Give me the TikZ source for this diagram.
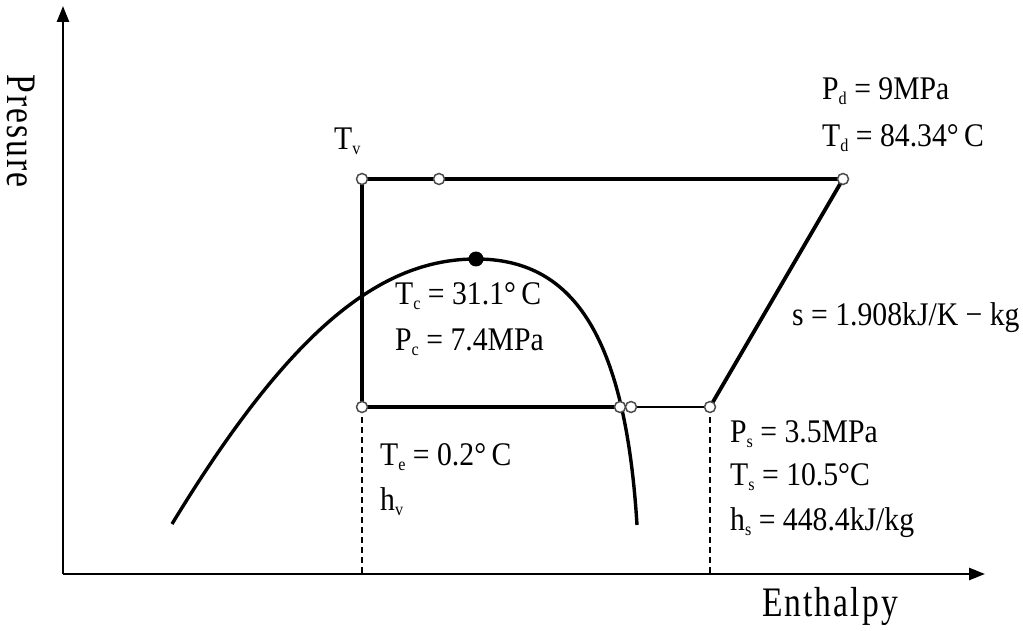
\documentclass[tikz,border=0pt]{standalone}
\usepackage{fontspec}
\setmainfont{Liberation Serif}
\newfontfamily\lblfont[FakeStretch=0.9]{Liberation Serif}
\newfontfamily\axfont[FakeStretch=0.8,LetterSpace=5]{Liberation Serif}
\usetikzlibrary{arrows.meta}
\newcommand{\lowsub}[1]{\raisebox{-5pt}{\fontsize{18}{18}\selectfont #1}}
\tikzset{
  lbl/.style={anchor=base west,inner sep=0pt,font=\lblfont\fontsize{33}{36}\selectfont},
  axlbl/.style={inner sep=0pt,font=\axfont\fontsize{42}{44}\selectfont},
  axisline/.style={line width=2.6pt,-{Triangle[length=16pt,width=12pt]}},
  cycle/.style={line width=3.8pt},
  thinline/.style={line width=2pt},
  guide/.style={line width=1.2pt,dash pattern=on 6pt off 4pt},
  opendot/.style={circle,draw=black!70,fill=white,line width=1.5pt,minimum size=11pt,inner sep=0pt},
  fulldot/.style={circle,fill=black,minimum size=15pt,inner sep=0pt}
}
\begin{document}
\begin{tikzpicture}[x=1pt,y=-1pt]
\useasboundingbox (0,0) rectangle (1023,631);
% axes
\coordinate (O) at (63,574);
\coordinate (ytip) at (63,6);
\coordinate (xtip) at (985,574);
\draw[axisline] (O) -- (ytip);
\draw[axisline] (O) -- (xtip);
\node[axlbl,rotate=-90] (ylab) at (21,131) {Presure};
\node[axlbl] (xlab) at (830,606) {Enthalpy};
% cycle points
\coordinate (A) at (362,179);
\coordinate (B) at (439,179);
\coordinate (C) at (843,179);
\coordinate (D) at (362,407);
\coordinate (E) at (620,407);
\coordinate (F) at (631,407);
\coordinate (G) at (710,407);
\coordinate (Db) at (362,574);
\coordinate (Gb) at (710,574);
% saturation dome
\coordinate (L) at (172,524);
\coordinate (K) at (476,259);
\coordinate (R) at (637,525);
\draw[line width=3.4pt] (L) .. controls (290,330) and (380,259) .. (K)
  .. controls (570,259) and (625,330) .. (R);
% guides
\draw[guide] (D) -- (Db);
\draw[guide] (G) -- (Gb);
% cycle
\draw[cycle,line join=miter] (D) -- (A) -- (C) -- (G);
\draw[cycle] (D) -- (E);
\draw[thinline] (F) -- (G);
% dots
\foreach \p in {A,B,C,D,E,F,G} \node[opendot] (n\p) at (\p) {};
\node[fulldot] (crit) at (K) {};
% labels
\node[lbl] (tv) at (334,150) {T\lowsub{v}};
\node[lbl] (pd) at (822,100) {P\lowsub{d} = 9MPa};
\node[lbl] (td) at (822,147) {T\lowsub{d} = 84.34°\,C};
\node[lbl] (tc) at (395,305) {T\lowsub{c} = 31.1°\,C};
\node[lbl] (pc) at (395,350) {P\lowsub{c} = 7.4MPa};
\node[lbl] (sl) at (792,325) {s = 1.908kJ/K − kg};
\node[lbl] (ps) at (730,442) {P\lowsub{s} = 3.5MPa};
\node[lbl] (ts) at (730,485) {T\lowsub{s} = 10.5°C};
\node[lbl] (hs) at (730,530) {h\lowsub{s} = 448.4kJ/kg};
\node[lbl] (te) at (380,465) {T\lowsub{e} = 0.2°\,C};
\node[lbl] (hv) at (380,510) {h\lowsub{v}};
\end{tikzpicture}
\end{document}
